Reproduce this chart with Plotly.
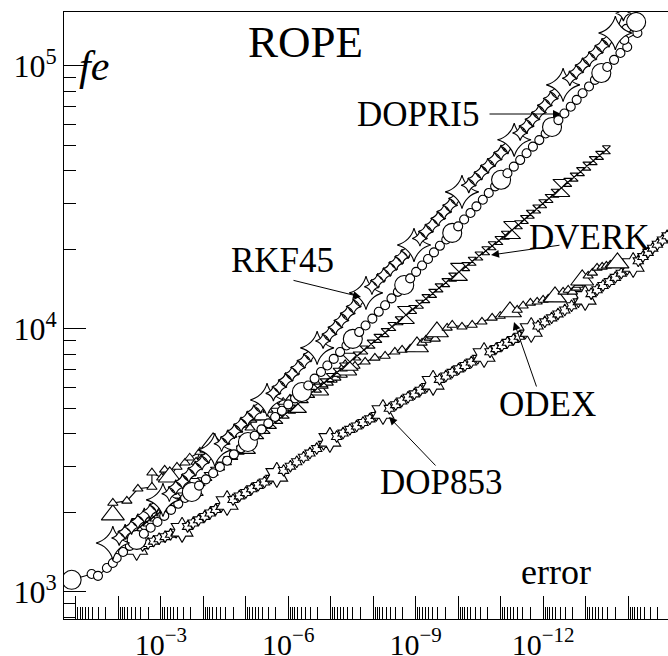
import numpy as np
import plotly.graph_objects as go

# ---------------- data (log10 of error, log10 of function evaluations) ----------------
RKF45_log_err = [-1.87, -2.02, -2.16, -2.31, -2.46, -2.61, -2.75, -2.90, -3.05,
                 -3.20, -3.35, -3.51, -3.66, -3.81, -3.97, -4.12, -4.27,
                 -4.43, -4.58, -4.73, -4.89, -5.04, -5.19, -5.35, -5.50,
                 -5.65, -5.79, -5.94, -6.09, -6.23, -6.38, -6.53, -6.68,
                 -6.82, -6.97, -7.11, -7.25, -7.40, -7.54, -7.69, -7.83,
                 -7.97, -8.11, -8.25, -8.40, -8.54, -8.68, -8.82, -8.96,
                 -9.10, -9.24, -9.39, -9.53, -9.67, -9.81, -9.95, -10.09,
                 -10.25, -10.40, -10.55, -10.70, -10.86, -11.01, -11.17, -11.32,
                 -11.46, -11.61, -11.75, -11.90, -12.04, -12.18, -12.33, -12.47,
                 -12.63, -12.78, -12.93, -13.09, -13.24, -13.39, -13.55, -13.70,
                 -13.89]
RKF45_log_fe = [3.186, 3.205, 3.228, 3.247, 3.268, 3.290, 3.307, 3.330, 3.350,
                3.373, 3.398, 3.420, 3.445, 3.469, 3.492, 3.517, 3.540,
                3.563, 3.588, 3.611, 3.636, 3.659, 3.683, 3.707, 3.730,
                3.755, 3.779, 3.805, 3.829, 3.853, 3.879, 3.903, 3.928,
                3.954, 3.980, 4.006, 4.032, 4.059, 4.085, 4.111, 4.137,
                4.160, 4.183, 4.205, 4.228, 4.251, 4.274, 4.296, 4.319,
                4.344, 4.370, 4.395, 4.420, 4.445, 4.470, 4.496, 4.521,
                4.546, 4.571, 4.595, 4.620, 4.645, 4.670, 4.694, 4.719,
                4.745, 4.771, 4.797, 4.823, 4.850, 4.876, 4.902, 4.928,
                4.953, 4.977, 5.002, 5.026, 5.051, 5.076, 5.100, 5.125,
                5.200]

DOPRI5_log_err = [-0.90, -1.37, -1.52, -1.73, -1.87, -1.96, -2.11, -2.27, -2.43,
                  -2.60, -2.76, -2.92, -3.08, -3.24, -3.41, -3.57, -3.73,
                  -3.90, -4.06, -4.23, -4.39, -4.56, -4.72, -4.89, -5.05,
                  -5.21, -5.37, -5.53, -5.69, -5.85, -6.00, -6.16, -6.32,
                  -6.47, -6.62, -6.77, -6.92, -7.07, -7.22, -7.37, -7.52,
                  -7.67, -7.82, -7.98, -8.13, -8.28, -8.43, -8.58, -8.73,
                  -8.87, -9.01, -9.15, -9.29, -9.43, -9.57, -9.72, -9.86,
                  -10.00, -10.14, -10.29, -10.43, -10.58, -10.72, -10.87, -11.01,
                  -11.16, -11.31, -11.46, -11.61, -11.76, -11.91, -12.06, -12.21,
                  -12.36, -12.50, -12.65, -12.79, -12.93, -13.08, -13.22, -13.37,
                  -13.51, -13.67, -13.82, -13.98, -13.91, -14.22, -13.96, -14.19]
DOPRI5_log_fe = [3.046, 3.068, 3.061, 3.091, 3.110, 3.129, 3.152, 3.175, 3.198,
                 3.221, 3.244, 3.266, 3.289, 3.312, 3.335, 3.357, 3.380,
                 3.404, 3.428, 3.451, 3.475, 3.499, 3.523, 3.546, 3.570,
                 3.594, 3.618, 3.641, 3.665, 3.689, 3.713, 3.736, 3.760,
                 3.785, 3.811, 3.836, 3.861, 3.886, 3.912, 3.937, 3.962,
                 3.988, 4.013, 4.039, 4.065, 4.090, 4.116, 4.141, 4.167,
                 4.192, 4.217, 4.241, 4.266, 4.291, 4.316, 4.340, 4.365,
                 4.390, 4.416, 4.441, 4.466, 4.491, 4.517, 4.542, 4.567,
                 4.592, 4.617, 4.642, 4.668, 4.693, 4.718, 4.743, 4.768,
                 4.794, 4.819, 4.845, 4.871, 4.896, 4.922, 4.947, 4.973,
                 4.996, 5.023, 5.049, 5.072, 5.099, 5.125, 5.141, 5.167]

DVERK_log_err = [-2.51, -2.67, -2.83, -2.99, -3.15, -3.31, -3.48, -3.64, -3.80,
                 -3.95, -4.11, -4.26, -4.41, -4.57, -4.72, -4.87, -5.03,
                 -5.18, -5.33, -5.48, -5.63, -5.78, -5.93, -6.08, -6.23,
                 -6.38, -6.53, -6.69, -6.84, -6.99, -7.15, -7.30, -7.45,
                 -7.62, -7.78, -7.95, -8.11, -8.28, -8.44, -8.61, -8.77,
                 -8.93, -9.09, -9.24, -9.40, -9.55, -9.71, -9.87, -10.02,
                 -10.18, -10.33, -10.49, -10.65, -10.80, -10.96, -11.11, -11.27,
                 -11.42, -11.56, -11.70, -11.85, -11.99, -12.14, -12.28, -12.43,
                 -12.58, -12.73, -12.88, -13.03, -13.18, -13.33, -13.49]
DVERK_log_fe = [3.247, 3.266, 3.285, 3.304, 3.323, 3.342, 3.361, 3.380, 3.399,
                3.419, 3.439, 3.459, 3.479, 3.499, 3.519, 3.539, 3.559,
                3.579, 3.598, 3.618, 3.637, 3.656, 3.676, 3.695, 3.715,
                3.735, 3.755, 3.775, 3.795, 3.815, 3.835, 3.855, 3.875,
                3.897, 3.920, 3.942, 3.964, 3.986, 4.009, 4.031, 4.053,
                4.074, 4.094, 4.115, 4.135, 4.156, 4.176, 4.197, 4.217,
                4.237, 4.257, 4.277, 4.297, 4.316, 4.336, 4.356, 4.376,
                4.396, 4.416, 4.436, 4.456, 4.476, 4.496, 4.516, 4.536,
                4.557, 4.577, 4.598, 4.619, 4.640, 4.660, 4.681]

ODEX_log_err = [-1.87, -1.87, -2.20, -2.46, -2.79, -2.79, -3.02, -3.09, -3.21,
                -3.38, -3.57, -3.68, -3.92, -3.83, -4.04, -4.11, -4.23,
                -4.51, -4.67, -4.81, -4.98, -5.10, -5.14, -5.24, -5.33,
                -5.52, -5.71, -5.88, -6.04, -6.20, -6.37, -6.51, -6.68,
                -6.82, -6.94, -7.03, -7.12, -7.17, -7.27, -7.29, -7.34,
                -7.57, -7.81, -8.04, -8.28, -8.51, -8.68, -8.87, -9.03,
                -9.15, -9.24, -9.32, -9.39, -9.46, -9.43, -9.47, -9.50,
                -9.74, -9.86, -10.09, -10.33, -10.56, -10.80, -10.99, -11.22,
                -11.39, -11.53, -11.70, -11.86, -12.00, -12.12, -12.21, -12.28,
                -12.47, -12.59, -12.69, -12.78, -12.83, -12.87, -12.90, -12.92,
                -13.06, -13.16, -13.27, -13.39, -13.49, -13.58, -13.65, -13.75]
ODEX_log_fe = [3.293, 3.338, 3.346, 3.392, 3.399, 3.453, 3.434, 3.464, 3.437,
               3.475, 3.491, 3.510, 3.532, 3.494, 3.540, 3.551, 3.567,
               3.570, 3.597, 3.616, 3.635, 3.624, 3.654, 3.662, 3.673,
               3.692, 3.707, 3.722, 3.734, 3.745, 3.753, 3.760, 3.768,
               3.783, 3.795, 3.806, 3.814, 3.829, 3.825, 3.837, 3.844,
               3.859, 3.875, 3.890, 3.897, 3.913, 3.920, 3.924, 3.932,
               3.947, 3.958, 3.966, 3.973, 3.962, 3.981, 3.985, 3.989,
               4.004, 4.015, 4.008, 4.015, 4.027, 4.042, 4.049, 4.065,
               4.072, 4.088, 4.099, 4.103, 4.110, 4.114, 4.118, 4.122,
               4.141, 4.148, 4.141, 4.156, 4.167, 4.175, 4.179, 4.186,
               4.202, 4.213, 4.232, 4.236, 4.240, 4.243, 4.247, 4.251]

DOP853_log_err = [-2.43, -2.57, -2.70, -2.83, -2.96, -3.10, -3.23, -3.36, -3.50,
                  -3.63, -3.76, -3.89, -4.03, -4.16, -4.29, -4.42, -4.56,
                  -4.70, -4.85, -5.00, -5.14, -5.29, -5.44, -5.59, -5.73,
                  -5.89, -6.05, -6.20, -6.36, -6.51, -6.67, -6.83, -6.98,
                  -7.14, -7.29, -7.45, -7.61, -7.76, -7.92, -8.07, -8.23,
                  -8.38, -8.53, -8.67, -8.82, -8.97, -9.11, -9.26, -9.41,
                  -9.56, -9.71, -9.86, -10.01, -10.16, -10.31, -10.46, -10.61,
                  -10.75, -10.89, -11.03, -11.16, -11.30, -11.44, -11.58, -11.72,
                  -11.88, -12.04, -12.20, -12.35, -12.51, -12.67, -12.83, -12.99,
                  -13.13, -13.27, -13.41, -13.56, -13.70, -13.84, -13.98, -14.12,
                  -14.24, -14.35, -14.47, -14.58, -14.69, -14.81, -14.92]
DOP853_log_fe = [3.167, 3.176, 3.184, 3.193, 3.202, 3.210, 3.219, 3.227, 3.236,
                 3.249, 3.262, 3.274, 3.287, 3.300, 3.313, 3.325, 3.338,
                 3.351, 3.365, 3.378, 3.392, 3.405, 3.418, 3.432, 3.445,
                 3.462, 3.478, 3.495, 3.512, 3.528, 3.545, 3.561, 3.578,
                 3.591, 3.604, 3.618, 3.631, 3.644, 3.658, 3.671, 3.684,
                 3.698, 3.712, 3.726, 3.740, 3.753, 3.767, 3.781, 3.795,
                 3.808, 3.821, 3.835, 3.848, 3.861, 3.874, 3.888, 3.901,
                 3.913, 3.925, 3.937, 3.949, 3.960, 3.972, 3.984, 3.996,
                 4.011, 4.027, 4.042, 4.057, 4.072, 4.088, 4.103, 4.118,
                 4.134, 4.149, 4.165, 4.180, 4.196, 4.212, 4.227, 4.243,
                 4.259, 4.275, 4.291, 4.307, 4.322, 4.338, 4.354]

X_DECADES = list(range(-1, -15, -1))
X_LABEL_DECADES = [-3, -6, -9, -12]
X_LABELS = ["10<sup>\u22123</sup>", "10<sup>\u22126</sup>",
            "10<sup>\u22129</sup>", "10<sup>\u221212</sup>"]
Y_DECADES = [3, 4, 5]
Y_LABELS = ["10<sup>3</sup>", "10<sup>4</sup>", "10<sup>5</sup>"]

# ---------------- figure ----------------
W, H = 668, 656
ML, MR, MT, MB = 64, 0, 12, 37
FONT = "Liberation Serif"
X_RANGE = [-0.72, -14.94]

series = [
    (DOP853_log_err, DOP853_log_fe, "hexagram", 19, 9),
    (ODEX_log_err, ODEX_log_fe, "triangle-up", 20, 9),
    (DVERK_log_err, DVERK_log_fe, "hourglass", 17, 8),
    (DOPRI5_log_err, DOPRI5_log_fe, "circle", 19, 9),
    (RKF45_log_err, RKF45_log_fe, "star-diamond", 24, 11),
]

fig = go.Figure()
for le, lf, sym, big, small in series:
    n = len(le)
    sizes = [big if i % 8 == 0 else small for i in range(n)]
    fig.add_trace(go.Scatter(
        x=10 ** np.array(le), y=10 ** np.array(lf), mode="lines+markers",
        line=dict(color="black", width=1.1),
        marker=dict(symbol=sym, size=sizes, color="white", opacity=1,
                    line=dict(color="black", width=1.1)),
        showlegend=False, hoverinfo="skip"))

# invisible trace that carries the labelled overlay x axis
fig.add_trace(go.Scatter(x=[10.0 ** X_LABEL_DECADES[0]], y=[10.0 ** 4],
                         xaxis="x2", mode="markers", marker=dict(opacity=0),
                         showlegend=False, hoverinfo="skip"))

x_minor = [m * 10.0 ** k for k in range(0, -16, -1) for m in range(2, 10)]
y_minor = [m * 10.0 ** k for k in range(2, 6) for m in range(2, 10)]

fig.update_layout(
    xaxis=dict(
        type="log", range=X_RANGE, autorange=False, automargin=False,
        tickmode="array", tickvals=[10.0 ** k for k in X_DECADES],
        showticklabels=False,
        ticks="inside", ticklen=23, tickwidth=1, tickcolor="black",
        minor=dict(tickmode="array", tickvals=x_minor, ticks="inside",
                   ticklen=12, tickwidth=1, tickcolor="black", showgrid=False),
        showline=True, linecolor="black", linewidth=1, mirror=True,
        showgrid=False, zeroline=False),
    xaxis2=dict(
        type="log", range=X_RANGE, autorange=False, automargin=False,
        overlaying="x", side="bottom", anchor="y",
        tickmode="array", tickvals=[10.0 ** k for k in X_LABEL_DECADES],
        ticktext=X_LABELS, ticks="", showline=False, showgrid=False,
        zeroline=False, ticklabelstandoff=5,
        tickfont=dict(family=FONT, size=30, color="black")),
    yaxis=dict(
        type="log", range=[2.897, 5.205], autorange=False, automargin=False,
        tickmode="array", tickvals=[10.0 ** k for k in Y_DECADES],
        ticktext=Y_LABELS,
        ticks="inside", ticklen=22, tickwidth=1, tickcolor="black",
        minor=dict(tickmode="array", tickvals=y_minor, ticks="inside",
                   ticklen=12, tickwidth=1, tickcolor="black", showgrid=False),
        showline=True, linecolor="black", linewidth=1,
        showgrid=False, zeroline=False,
        tickfont=dict(family=FONT, size=32, color="black")),
)


def P(px, py):
    return (px - ML) / (W - ML - MR), (H - MB - py) / (H - MT - MB)


annotations = []


def label(text, px, py, size, italic=False):
    x, y = P(px, py)
    if italic:
        text = "<i>" + text + "</i>"
    annotations.append(dict(text=text, x=x, y=y, xref="paper", yref="paper",
                            xanchor="center", yanchor="middle", showarrow=False,
                            font=dict(family=FONT, size=size, color="black")))


def arrow(tail, head):
    x, y = P(*head)
    annotations.append(dict(text="", x=x, y=y, xref="paper", yref="paper",
                            ax=tail[0] - head[0], ay=tail[1] - head[1],
                            showarrow=True, arrowhead=2, arrowsize=1.6,
                            arrowwidth=1, arrowcolor="black",
                            standoff=0, startstandoff=0))


label("ROPE", 305, 42, 45)
label("fe", 94, 66, 42, italic=True)
label("DOPRI5", 418, 115, 35)
label("RKF45", 282, 260, 35)
label("DVERK", 589, 238, 35)
label("ODEX", 547, 404, 35)
label("DOP853", 441, 482, 35)
label("error", 556, 572, 36)

arrow((488, 114), (561, 114))
arrow((292, 280), (361, 297))
arrow((561, 245), (491, 255))
arrow((537, 388), (514, 322))
arrow((437, 467), (389, 417))

fig.update_layout(
    width=W, height=H, margin=dict(l=ML, r=MR, t=MT, b=MB),
    paper_bgcolor="white", plot_bgcolor="white",
    annotations=annotations, showlegend=False)

fig.write_html("out.html")
